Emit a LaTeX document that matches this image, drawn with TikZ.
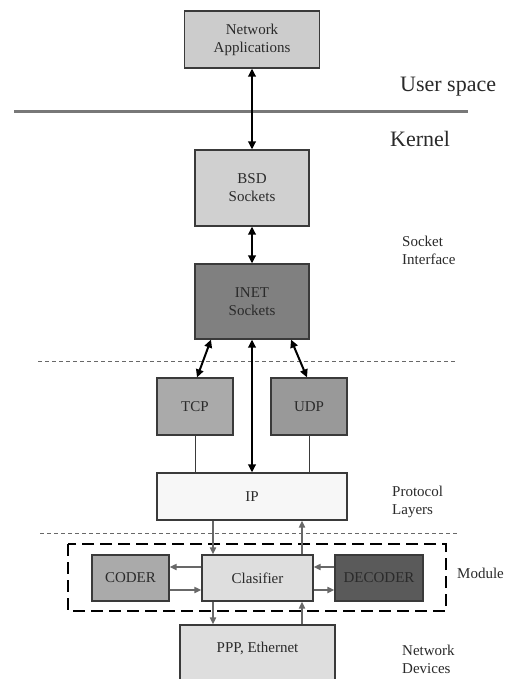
\documentclass[tikz,border=0pt]{standalone}
\usepackage{fontspec}
\setmainfont{Liberation Serif}
\usetikzlibrary{arrows.meta}
\definecolor{txt}{HTML}{2A2A2A}
\definecolor{edge}{HTML}{3A3A3A}
\definecolor{garrow}{HTML}{686868}
\definecolor{sepline}{HTML}{787878}
\definecolor{cApp}{HTML}{CCCCCC}
\definecolor{cBsd}{HTML}{D0D0D0}
\definecolor{cInet}{HTML}{808080}
\definecolor{cTcp}{HTML}{AAAAAA}
\definecolor{cUdp}{HTML}{999999}
\definecolor{cIp}{HTML}{F7F7F7}
\definecolor{cCoder}{HTML}{AAAAAA}
\definecolor{cClas}{HTML}{DEDEDE}
\definecolor{cDec}{HTML}{5A5A5A}
\definecolor{cPpp}{HTML}{DEDEDE}
\tikzset{
  box/.style={draw=edge, line width=1.2pt, inner sep=0pt, align=center, text=txt,
    font=\fontsize{15}{18}\selectfont},
  lbl/.style={inner sep=0pt, anchor=west, align=left, text=txt,
    font=\fontsize{15}{18}\selectfont},
  big/.style={inner sep=0pt, anchor=base west, text=txt,
    font=\fontsize{22}{26}\selectfont},
  barrow/.style={line width=2pt, black, {Triangle[length=8pt,width=7.5pt]}-{Triangle[length=8pt,width=7.5pt]}},
  garr/.style={line width=1.8pt, garrow, -{Triangle[length=7pt,width=6pt]}},
  thinl/.style={line width=1pt, edge},
  sep/.style={line width=1pt, garrow, dash pattern=on 4pt off 3pt},
}
\begin{document}
\begin{tikzpicture}[x=1pt,y=-1pt]
\useasboundingbox (0,0) rectangle (509,679);
\clip (0,0) rectangle (509,679);
\fill[white] (0,0) rectangle (509,679);

% boxes
\node[box, fill=cApp, minimum width=135pt, minimum height=57pt] (app) at (252,39.5) {Network\\Applications};
\node[box, fill=cBsd, minimum width=114pt, minimum height=76pt] (bsd) at (252,188) {BSD\\Sockets};
\node[box, fill=cInet, minimum width=114pt, minimum height=75pt] (inet) at (252,301.5) {INET\\Sockets};
\node[box, fill=cTcp, minimum width=76pt, minimum height=57pt] (tcp) at (195,406.5) {TCP};
\node[box, fill=cUdp, minimum width=76pt, minimum height=57pt] (udp) at (309,406.5) {UDP};
\node[box, fill=cIp, minimum width=190pt, minimum height=47pt] (ip) at (252,496.5) {IP};
\node[box, fill=cCoder, minimum width=77pt, minimum height=46pt] (coder) at (130.5,578) {CODER};
\node[box, fill=cClas, minimum width=111pt, minimum height=46pt] (clas) at (257.5,578) {Clasifier};
\node[box, fill=cDec, minimum width=88pt, minimum height=46pt] (dec) at (379,578) {DECODER};
\node[box, fill=cPpp, minimum width=155pt, minimum height=68pt] (ppp) at (257.5,659) {PPP, Ethernet\\\strut};

% module frame
\draw[black, line width=1.8pt, dash pattern=on 12pt off 6pt] (68,544) rectangle (446,611);

% separators
\draw[line width=3pt, sepline] (14,112) -- (468,112);
\draw[sep] (38,361) -- (455,361);
\draw[sep] (40,533) -- (457,533);

% labels
\node[big] (us) at (400,92) {User space};
\node[big] (kr) at (390,147) {Kernel};
\node[lbl] (si) at (402,250) {Socket\\Interface};
\node[lbl] (pl) at (392,502) {Protocol\\Layers};
\node[lbl] (mo) at (457,573) {Module};
\node[lbl] (nd) at (402,659) {Network\\Devices};

% black arrows
\draw[barrow] (app.south) -- (bsd.north);
\draw[barrow] (bsd.south) -- (inet.north);
\draw[barrow] ([xshift=-41pt]inet.south) -- ([xshift=2pt]tcp.north);
\draw[barrow] ([xshift=39pt]inet.south) -- ([xshift=-2pt]udp.north);
\draw[barrow] (inet.south) -- (ip.north);
\draw[thinl] (tcp.south) -- (tcp.south |- ip.north);
\draw[thinl] (udp.south) -- (udp.south |- ip.north);

% gray arrows
\draw[garr] ([xshift=-39pt]ip.south) -- ([xshift=-39pt]ip.south |- clas.north);
\draw[garr] ([xshift=50pt]ip.south |- clas.north) -- ([xshift=50pt]ip.south);
\draw[garr] ([yshift=11pt]clas.west) -- ([yshift=11pt]coder.east);
\draw[garr] ([yshift=-12pt]coder.east) -- ([yshift=-12pt]clas.west);
\draw[garr] ([yshift=11pt]dec.west) -- ([yshift=11pt]clas.east);
\draw[garr] ([yshift=-12pt]clas.east) -- ([yshift=-12pt]dec.west);
\draw[garr] ([xshift=-44.5pt]clas.south) -- ([xshift=-44.5pt]clas.south |- ppp.north);
\draw[garr] ([xshift=44.5pt]clas.south |- ppp.north) -- ([xshift=44.5pt]clas.south);
\end{tikzpicture}
\end{document}
